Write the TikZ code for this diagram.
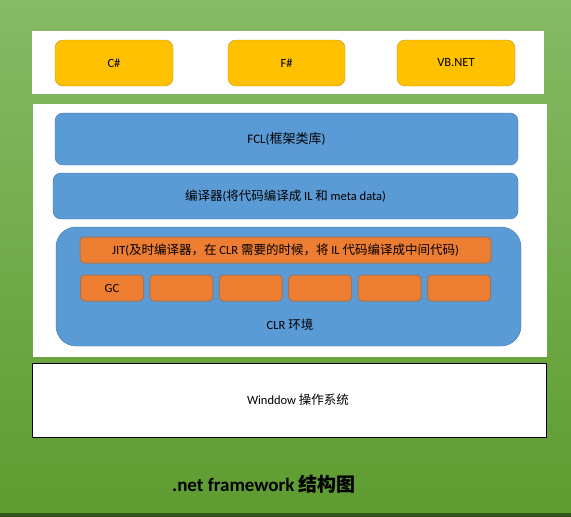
\documentclass[tikz,border=0pt]{standalone}
\usepackage{fontspec}
\setmainfont{Carlito}
\newfontfamily\cjk{Noto Sans CJK SC}
\newcommand{\zh}[1]{{\cjk #1}}
\definecolor{bgtop}{HTML}{86BA66}
\definecolor{bgbot}{HTML}{5E9C30}
\definecolor{langfill}{HTML}{FFC000}
\definecolor{langline}{HTML}{C49A1C}
\definecolor{layerfill}{HTML}{5B9BD5}
\definecolor{layerline}{HTML}{4677AE}
\definecolor{partfill}{HTML}{ED7D31}
\definecolor{partline}{HTML}{9A7660}
\tikzset{
  lang/.style={draw=langline,fill=langfill,rounded corners=8pt,minimum height=46pt,inner sep=0pt,font=\fontsize{12.5}{15}\selectfont},
  layer/.style={draw=layerline,fill=layerfill,rounded corners=8pt,inner sep=0pt,font=\fontsize{12.5}{15}\selectfont},
  part/.style={draw=partline,line width=1pt,fill=partfill,rounded corners=4pt,minimum height=26pt,inner sep=0pt,font=\fontsize{12.5}{15}\selectfont}
}
\begin{document}
\begin{tikzpicture}[x=1pt,y=-1pt]
\useasboundingbox (0,0) rectangle (571,517);
\shade[top color=bgtop,bottom color=bgbot] (0,0) rectangle (571,513);
\fill[black!45!bgbot] (0,513) rectangle (571,517);
\fill[white] (32,31) rectangle (544,94);
\fill[white] (33,104) rectangle (547,357);
\node[lang,minimum width=118pt] (cs) at (114,63) {C\#};
\node[lang,minimum width=117pt] (fs) at (286.5,63) {F\#};
\node[lang,minimum width=118pt] (vb) at (456,63) {VB.NET};
\node[layer,minimum width=463pt,minimum height=52pt,font=\fontsize{13}{15}\selectfont] (fcl) at (286.5,139) {FCL(\zh{框架类库})};
\node[layer,minimum width=465pt,minimum height=46pt] (compiler) at (285.5,196) {\zh{编译器}(\zh{将代码编译成} IL \zh{和} meta data)};
\node[layer,rounded corners=20pt,minimum width=465pt,minimum height=119pt] (clr) at (288.5,286.5) {};
\node[font=\fontsize{12.5}{15}\selectfont] (clrtext) at (290,325) {CLR \zh{环境}};
\node[part,minimum width=411pt] (jit) at (285.5,250) {JIT(\zh{及时编译器，在} CLR \zh{需要的时候，将} IL \zh{代码编译成中间代码})};
\foreach \t [count=\i] in {GC,{},{},{},{},{}}
  \node[part,minimum width=63pt] (p\i) at ({112+69.4*(\i-1)},288) {\t};
\node[draw=black,line width=1pt,fill=white,minimum width=514pt,minimum height=74pt,inner sep=0pt,
  label={[xshift=9pt,font=\fontsize{12.5}{15}\selectfont]center:Winddow \zh{操作系统}}] (os) at (289,400) {};
\node[font=\fontsize{19}{22}\selectfont\bfseries] (title) at (264,484) {.net framework {\cjk\bfseries 结构图}};
\end{tikzpicture}
\end{document}
